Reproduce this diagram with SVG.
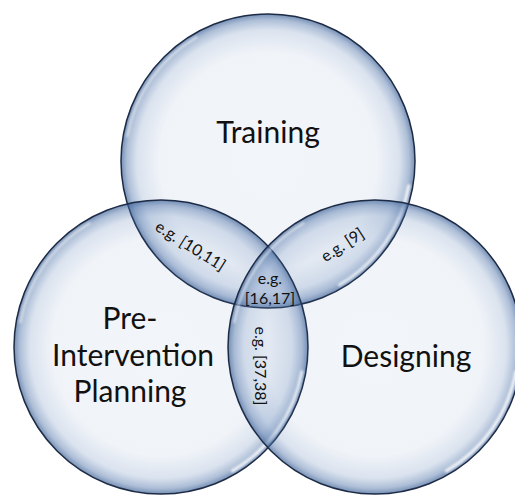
<svg xmlns="http://www.w3.org/2000/svg" width="515" height="495" viewBox="0 0 515 495">
  <defs>
    <radialGradient id="bubble" cx="50%" cy="50%" r="50%">
      <stop offset="0" stop-color="#5A7FB5" stop-opacity="0.08"/>
      <stop offset="0.74" stop-color="#5A7FB5" stop-opacity="0.09"/>
      <stop offset="0.89" stop-color="#5A7FB5" stop-opacity="0.22"/>
      <stop offset="0.96" stop-color="#4A6FA5" stop-opacity="0.45"/>
      <stop offset="1" stop-color="#3A5F95" stop-opacity="0.70"/>
    </radialGradient>
    <filter id="soft" x="-10%" y="-10%" width="120%" height="120%">
      <feGaussianBlur stdDeviation="0.9"/>
    </filter>
  </defs>
  <style>
    .disc { fill: url(#bubble); stroke: #1D2B45; stroke-width: 1.5; }
    .hi { fill: none; stroke: #FFFFFF; stroke-linecap: round; filter: url(#soft); }
    .hi1 { stroke-width: 3.2; stroke-opacity: 0.85; }
    .hi2 { stroke-width: 2.2; stroke-opacity: 0.6; }
    .big { font-family: Lato, "Open Sans", "Liberation Sans", sans-serif; font-size: 30px; fill: #111111; text-anchor: middle; }
    .small { font-family: Lato, "Open Sans", "Liberation Sans", sans-serif; font-size: 16px; fill: #111111; text-anchor: middle; dominant-baseline: central; }
  </style>

  <g id="training" transform="translate(268,161)">
    <circle class="disc" r="147"/>
    <path class="hi hi1" d="M140.8,24.8 A143,143 0 0 1 71.5,123.8"/>
    <path class="hi hi2" d="M-140.8,-24.8 A143,143 0 0 1 -71.5,-123.8"/>
    <text class="big" x="0" y="-18">Training</text>
  </g>

  <g id="pre-intervention-planning" transform="translate(161,347)">
    <circle class="disc" r="147"/>
    <path class="hi hi1" d="M140.8,24.8 A143,143 0 0 1 71.5,123.8"/>
    <path class="hi hi2" d="M-140.8,-24.8 A143,143 0 0 1 -71.5,-123.8"/>
    <text class="big" x="-31" y="-18">Pre-</text>
    <text class="big" x="-28" y="19">Intervention</text>
    <text class="big" x="-31" y="55">Planning</text>
  </g>

  <g id="designing" transform="translate(375,347)">
    <circle class="disc" r="147"/>
    <path class="hi hi1" d="M140.8,24.8 A143,143 0 0 1 71.5,123.8"/>
    <path class="hi hi2" d="M-140.8,-24.8 A143,143 0 0 1 -71.5,-123.8"/>
    <text class="big" x="31" y="20">Designing</text>
  </g>

  <g id="intersections">
    <text class="small" transform="translate(191,245) rotate(32)">e.g. [10,11]</text>
    <text class="small" transform="translate(342,244) rotate(-33)">e.g. [9]</text>
    <text class="small" x="270" y="277">e.g.</text>
    <text class="small" x="270" y="297">[16,17]</text>
    <text class="small" transform="translate(261,366) rotate(90)">e.g. [37,38]</text>
  </g>
</svg>
